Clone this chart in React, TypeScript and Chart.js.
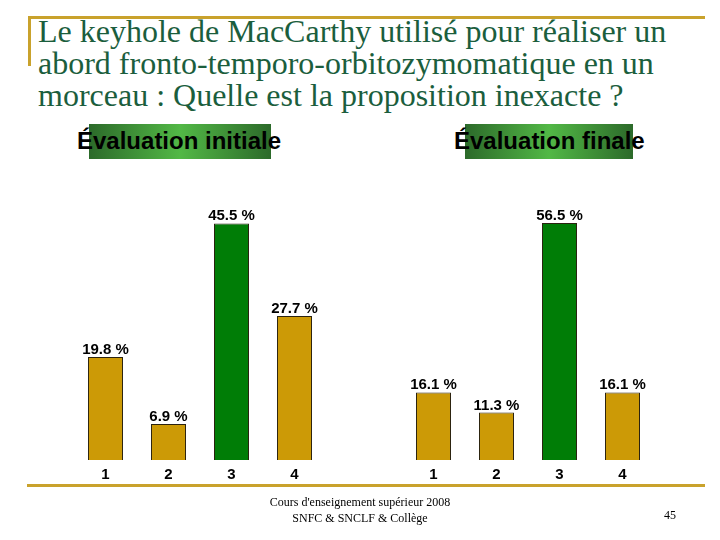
import React, { useEffect, useRef } from "react";
import { Chart, registerables } from "chart.js";

Chart.register(...registerables);

const categories = ["1", "2", "3", "4"];
const initialValues = [19.8, 6.9, 45.5, 27.7];
const finalValues = [16.1, 11.3, 56.5, 16.1];
const correctIndex = 2;
const initialMax = 50;
const finalMax = 62;

const GOLD = "#CC9A06";
const GREEN = "#007D06";

const labelPlugin = {
  id: "valueLabels",
  afterDatasetsDraw(chart: any) {
    const ctx = chart.ctx;
    const meta = chart.getDatasetMeta(0);
    const data = chart.data.datasets[0].data as number[];
    ctx.save();
    ctx.font = "bold 15px 'Liberation Sans', Arial, sans-serif";
    ctx.fillStyle = "#000";
    ctx.textAlign = "center";
    ctx.textBaseline = "alphabetic";
    meta.data.forEach((bar: any, i: number) => {
      ctx.fillText(`${data[i]} %`, bar.x, bar.y - 3);
    });
    ctx.restore();
  },
};

function BarChart({ values, max, left }: { values: number[]; max: number; left: number }) {
  const ref = useRef<HTMLCanvasElement>(null);
  useEffect(() => {
    if (!ref.current) return;
    const chart = new Chart(ref.current, {
      type: "bar",
      data: {
        labels: categories,
        datasets: [
          {
            data: values,
            backgroundColor: values.map((_, i) => (i === correctIndex ? GREEN : GOLD)),
            borderColor: "#2a2210",
            borderWidth: 1,
            barPercentage: 0.556,
            categoryPercentage: 1,
          },
        ],
      },
      options: {
        responsive: false,
        animation: false,
        devicePixelRatio: 1,
        layout: { padding: 0 },
        plugins: { legend: { display: false }, tooltip: { enabled: false } },
        scales: {
          x: {
            grid: { display: false, drawTicks: false },
            border: { display: false },
            ticks: {
              color: "#000",
              padding: 6,
              font: { family: "'Liberation Sans', Arial, sans-serif", size: 15, weight: "bold" },
            },
            afterFit: (scale: any) => {
              scale.height = 30;
            },
          },
          y: { display: false, min: 0, max },
        },
      },
      plugins: [labelPlugin],
    });
    return () => chart.destroy();
  }, []);
  return (
    <canvas
      ref={ref}
      width={252}
      height={290}
      style={{ position: "absolute", left, top: 200, width: 252, height: 290 }}
    />
  );
}

const titleLines = [
  "Le keyhole de MacCarthy utilisé pour réaliser un",
  "abord fronto-temporo-orbitozymomatique en un",
  "morceau : Quelle est la proposition inexacte ?",
];

function SubTitle({ text, boxLeft, boxWidth, textLeft }: { text: string; boxLeft: number; boxWidth: number; textLeft: number }) {
  return (
    <>
      <div
        style={{
          position: "absolute",
          left: boxLeft,
          top: 124,
          width: boxWidth,
          height: 35,
          background: "linear-gradient(to right, #2c6a2a 0%, #52b846 50%, #2c6a2a 100%)",
        }}
      />
      <div
        style={{
          position: "absolute",
          left: textLeft,
          top: 126,
          fontFamily: "'Liberation Sans', Arial, sans-serif",
          fontWeight: "bold",
          fontSize: 24,
          lineHeight: "30px",
          color: "#000",
          whiteSpace: "nowrap",
        }}
      >
        {text}
      </div>
    </>
  );
}

export default function App() {
  useEffect(() => {
    document.body.style.margin = "0";
  }, []);
  const gold = "#C9A22C";
  return (
    <div style={{ position: "relative", width: 720, height: 540, background: "#fff", overflow: "hidden" }}>
      <div style={{ position: "absolute", left: 28, top: 16, width: 677, height: 3, background: gold }} />
      <div style={{ position: "absolute", left: 28, top: 16, width: 3, height: 50, background: gold }} />
      <div
        style={{
          position: "absolute",
          left: 38,
          top: 15,
          fontFamily: "'Liberation Serif', 'Times New Roman', serif",
          fontSize: 32,
          lineHeight: "32px",
          color: "#1B5E3D",
          whiteSpace: "nowrap",
        }}
      >
        {titleLines.map((l, i) => (
          <div key={i}>{l}</div>
        ))}
      </div>
      <SubTitle text="Évaluation initiale" boxLeft={89} boxWidth={182} textLeft={77} />
      <SubTitle text="Évaluation finale" boxLeft={465} boxWidth={168} textLeft={454} />
      <BarChart values={initialValues} max={initialMax} left={74} />
      <BarChart values={finalValues} max={finalMax} left={402} />
      <div style={{ position: "absolute", left: 27, top: 484, width: 678, height: 3, background: gold }} />
      <div
        style={{
          position: "absolute",
          left: 0,
          width: 720,
          top: 494,
          textAlign: "center",
          fontFamily: "'Liberation Serif', 'Times New Roman', serif",
          fontSize: 12,
          lineHeight: "16px",
          color: "#000",
        }}
      >
        <div>Cours d'enseignement supérieur 2008</div>
        <div>SNFC &amp; SNCLF &amp; Collège</div>
      </div>
      <div
        style={{
          position: "absolute",
          left: 664,
          top: 508,
          fontFamily: "'Liberation Serif', 'Times New Roman', serif",
          fontSize: 12,
          color: "#000",
        }}
      >
        45
      </div>
    </div>
  );
}
